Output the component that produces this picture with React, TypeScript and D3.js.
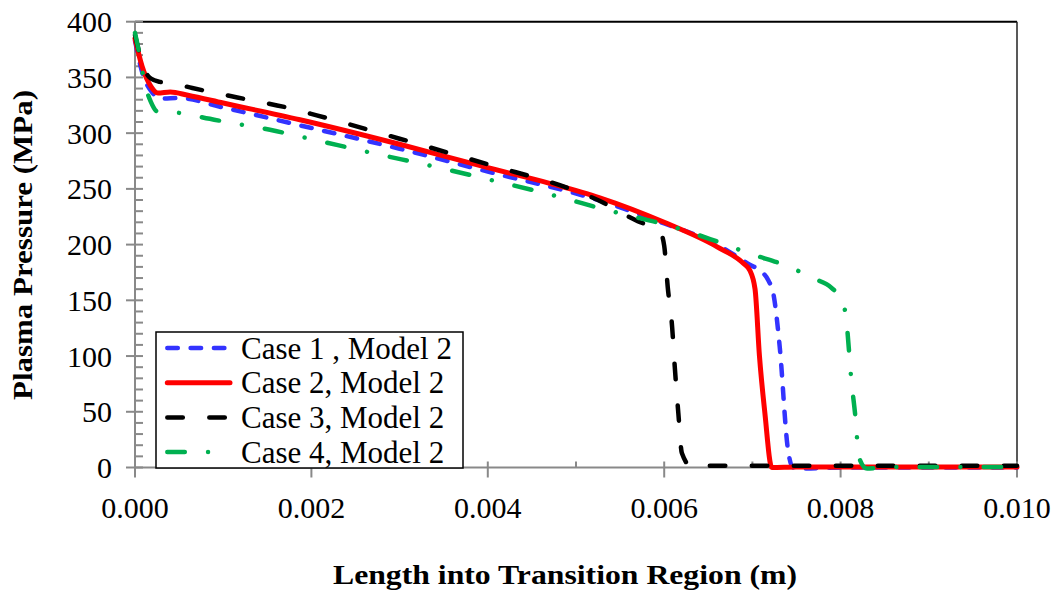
import React from 'react';
import * as d3 from 'd3';

// ---- data ----
const xTicks = [0, 0.002, 0.004, 0.006, 0.008, 0.01];
const yTicks = [0, 50, 100, 150, 200, 250, 300, 350, 400];
const xMinorTicks = [0.001, 0.003, 0.005, 0.007, 0.009];
const yMinorStep = 10;

const seriesNames = ['Case 1 , Model 2', 'Case 2, Model 2', 'Case 3, Model 2', 'Case 4, Model 2'];

const case1: [number, number][] = [
  [0, 383], [0.00008, 355], [0.0002, 336], [0.0003, 331], [0.0005, 331.5], [0.001, 323],
  [0.00187, 307], [0.003, 286], [0.004, 265.5], [0.00527, 239.5], [0.006, 219], [0.0066, 200],
  [0.00697, 182], [0.0071, 176], [0.00718, 168], [0.00724, 155], [0.00731, 108], [0.0074, 18],
  [0.00746, 0], [0.0076, -0.8], [0.008, 0], [0.01, 0],
];
const case2: [number, number][] = [
  [0, 385], [0.00008, 360], [0.00018, 342], [0.00026, 336], [0.0004, 337], [0.0006, 334],
  [0.001, 327], [0.00187, 312], [0.003, 290], [0.004, 269], [0.0047, 255], [0.00527, 242],
  [0.006, 220], [0.0066, 198], [0.0069, 183], [0.00697, 177], [0.00703, 160], [0.00708, 100],
  [0.00714, 50], [0.00722, 0], [0.0075, 0.5], [0.01, 0.5],
];
const case3: [number, number][] = [
  [0, 388], [0.00005, 372], [0.00012, 355], [0.00018, 349], [0.00028, 346], [0.0004, 345],
  [0.00065, 340.5], [0.00116, 332], [0.00172, 323], [0.00206, 316], [0.003, 295], [0.004, 272],
  [0.005, 248], [0.0053, 238], [0.0055, 229], [0.0057, 221], [0.00595, 212], [0.006, 199],
  [0.00604, 162], [0.00609, 126], [0.00612, 90], [0.00616, 49], [0.0062, 13], [0.00632, 0],
  [0.0065, 1.5], [0.01, 1.5],
];
const case4: [number, number][] = [
  [0, 390], [0.00004, 375], [0.0001, 348], [0.00018, 328], [0.00026, 319], [0.00053, 318],
  [0.00077, 314], [0.00104, 310], [0.00153, 303], [0.00198, 295], [0.0027, 282], [0.00342, 269.5],
  [0.00414, 256], [0.00485, 242], [0.0053, 232], [0.00558, 226.5], [0.00603, 217.6], [0.00652, 205],
  [0.00697, 192], [0.00745, 179], [0.00768, 170], [0.0079, 161], [0.00803, 148], [0.00807, 128],
  [0.00812, 80], [0.00818, 34], [0.0082, 11], [0.0083, -1], [0.0085, 0.5], [0.01, 0.5],
];
const allSeries = [case1, case2, case3, case4];

const colors = ['#3333ff', '#ff0000', '#000000', '#00b050'];
const dashes = ['10.5 12.8', '', '15.5 26.5', '17.5 23.25 0.01 23.25'];
const widths = [4.5, 5, 4.5, 4.5];

const W = 1058;
const H = 596;
const left = 135;
const right = 1017;
const top = 21.7;
const bottom = 467.5;

export default function App() {
  const x = d3.scaleLinear().domain([0, 0.01]).range([left, right]);
  const y = d3.scaleLinear().domain([0, 400]).range([bottom, top]);
  const line = d3
    .line<[number, number]>()
    .x((d) => x(d[0]))
    .y((d) => y(d[1]))
    .curve(d3.curveMonotoneX);

  const yMinor: number[] = d3.range(0, 401, yMinorStep).filter((v) => v % 50 !== 0);
  const axisColor = '#898989';
  const font = '"Liberation Serif", "Times New Roman", serif';

  return (
    <svg
      width={W}
      height={H}
      style={{ position: 'absolute', left: 0, top: 0, background: '#fff' }}
      fontFamily={font}
    >
      <rect x={0} y={0} width={W} height={H} fill="#fff" />
      {/* frame top/right */}
      <line x1={left} x2={right} y1={top} y2={top} stroke="#000" strokeWidth={2} />
      <line x1={right} x2={right} y1={top} y2={bottom} stroke="#222" strokeWidth={1.5} />

      {/* y axis */}
      <line x1={left} x2={left} y1={top} y2={bottom} stroke={axisColor} strokeWidth={2} />
      {yTicks.map((t) => (
        <g key={'yt' + t}>
          <line x1={left - 9} x2={left + 8} y1={y(t)} y2={y(t)} stroke={axisColor} strokeWidth={2} />
          <text x={112} y={y(t) + 10.5} fontSize={30} textAnchor="end" fill="#000">
            {t}
          </text>
        </g>
      ))}
      {yMinor.map((t) => (
        <line key={'ym' + t} x1={left} x2={left + 8} y1={y(t)} y2={y(t)} stroke={axisColor} strokeWidth={2} />
      ))}

      {/* x axis */}
      <line x1={left} x2={right} y1={bottom} y2={bottom} stroke={axisColor} strokeWidth={2} />
      {xTicks.map((t) => (
        <g key={'xt' + t}>
          <line x1={x(t)} x2={x(t)} y1={bottom - 6} y2={bottom + 10} stroke={axisColor} strokeWidth={2} />
          <text x={x(t)} y={518} fontSize={30} textAnchor="middle" fill="#000">
            {t.toFixed(3)}
          </text>
        </g>
      ))}
      {xMinorTicks.map((t) => (
        <line key={'xm' + t} x1={x(t)} x2={x(t)} y1={bottom - 6} y2={bottom} stroke={axisColor} strokeWidth={2} />
      ))}

      {/* series */}
      {allSeries.map((s, i) => (
        <path
          key={'s' + i}
          d={line(s) || ''}
          fill="none"
          stroke={colors[i]}
          strokeWidth={widths[i]}
          strokeDasharray={dashes[i] || undefined}
          strokeLinecap="round"
          strokeLinejoin="round"
        />
      ))}

      {/* legend */}
      <rect x={156} y={332} width={307} height={136} fill="#fff" stroke="#000" strokeWidth={1.5} />
      {seriesNames.map((n, i) => {
        const cy = 348 + i * 34.7;
        return (
          <g key={'lg' + i}>
            <line
              x1={167.3}
              x2={230}
              y1={cy}
              y2={cy}
              stroke={colors[i]}
              strokeWidth={widths[i]}
              strokeDasharray={dashes[i] || undefined}
              strokeLinecap="round"
            />
            <text x={241} y={cy + 10.5} fontSize={31} fill="#000">
              {n}
            </text>
          </g>
        );
      })}

      {/* axis titles */}
      <text
        x={565}
        y={584}
        fontSize={27}
        fontWeight="bold"
        textAnchor="middle"
        textLength={464}
        lengthAdjust="spacingAndGlyphs"
        fill="#000"
      >
        Length into Transition Region (m)
      </text>
      <text
        transform="translate(32,245) rotate(-90)"
        fontSize={27}
        fontWeight="bold"
        textAnchor="middle"
        textLength={310}
        lengthAdjust="spacingAndGlyphs"
        fill="#000"
      >
        Plasma Pressure (MPa)
      </text>
    </svg>
  );
}
